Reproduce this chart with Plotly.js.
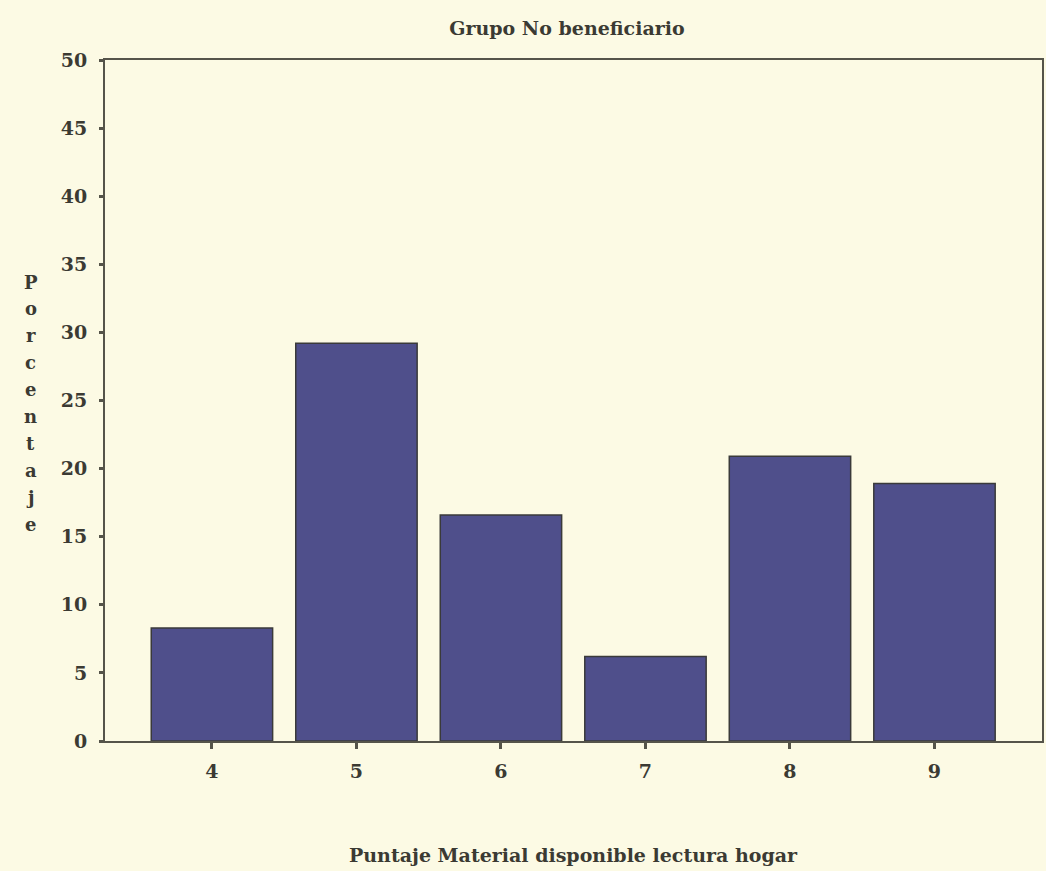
<!DOCTYPE html>
<html>
<head>
<meta charset="utf-8">
<script src="https://cdn.plot.ly/plotly-3.0.1.min.js"></script>
<style>
  html, body { margin: 0; padding: 0; background: #fcfae4; }
  #chart { width: 1046px; height: 871px; }
</style>
</head>
<body>
<div id="chart"></div>
<script>
const categories = [4, 5, 6, 7, 8, 9];
const percentages = [8.3, 29.2, 16.6, 6.2, 20.9, 18.9];
const yTicks = [0, 5, 10, 15, 20, 25, 30, 35, 40, 45, 50];
const chartTitle = "Grupo No beneficiario";
const xTitle = "Puntaje Material disponible lectura hogar";
const yTitle = "Porcentaje";

const FONT = "DejaVu Serif, Liberation Serif, serif";
const INK = "#3b3a33";
const AXIS = "#55544a";

const trace = {
  type: "bar",
  x: categories,
  y: percentages,
  width: 0.84,
  marker: { color: "#4f4f8b", line: { color: "#3a3a3a", width: 1.5 } },
  hoverinfo: "x+y"
};

const letters = yTitle.split("");
const annotations = letters.map((ch, i) => ({
  text: "<b>" + ch + "</b>",
  xref: "paper", yref: "paper",
  x: -0.079, y: 0.674 - i * 0.0396,
  xanchor: "center", yanchor: "middle",
  showarrow: false,
  font: { family: FONT, size: 18, color: INK }
}));
annotations.push({
  text: "<b>" + xTitle + "</b>",
  xref: "paper", yref: "paper",
  x: 0.5, y: -0.168,
  xanchor: "center", yanchor: "middle",
  showarrow: false,
  font: { family: FONT, size: 19, color: INK }
});

const layout = {
  width: 1046, height: 871,
  paper_bgcolor: "#fcfae4",
  plot_bgcolor: "#fcfae4",
  margin: { l: 105, r: 4, t: 60, b: 130 },
  showlegend: false,
  title: {
    text: "<b>" + chartTitle + "</b>",
    xref: "container", yref: "container",
    x: 0.542, y: 0.968, xanchor: "center", yanchor: "middle",
    font: { family: FONT, size: 19, color: INK }
  },
  xaxis: {
    range: [3.26, 9.744],
    tickvals: categories,
    ticktext: categories.map(String),
    ticks: "outside", ticklen: 6, tickwidth: 3, tickcolor: AXIS,
    showline: true, linecolor: AXIS, linewidth: 2, mirror: true,
    showgrid: false, zeroline: false,
    ticklabelstandoff: 6,
    tickfont: { family: FONT, size: 19, color: INK, weight: "bold" }
  },
  yaxis: {
    range: [0, 50],
    tickvals: yTicks,
    ticktext: yTicks.map(String),
    ticks: "outside", ticklen: 4, tickwidth: 3, tickcolor: AXIS,
    showline: true, linecolor: AXIS, linewidth: 2, mirror: true,
    showgrid: false, zeroline: false,
    ticklabelstandoff: 8,
    tickfont: { family: FONT, size: 19, color: INK, weight: "bold" }
  },
  annotations: annotations
};

Plotly.newPlot("chart", [trace], layout, { displayModeBar: false, staticPlot: true });
</script>
</body>
</html>
